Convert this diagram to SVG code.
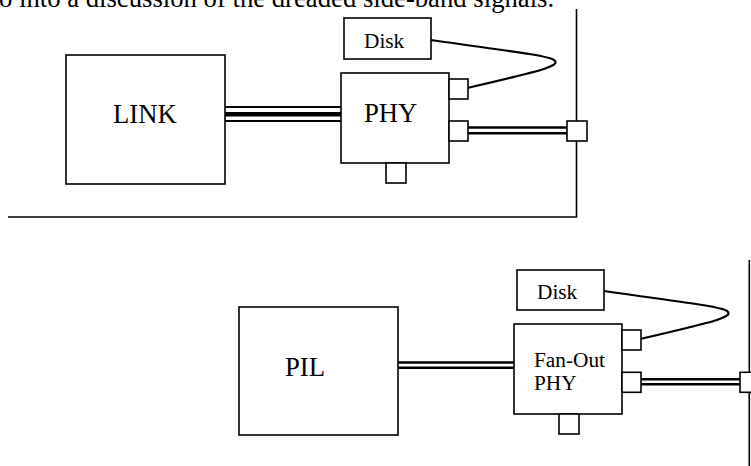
<svg xmlns="http://www.w3.org/2000/svg" width="751" height="466" viewBox="0 0 751 466">
<style>
.box{fill:#fff;stroke:#000;stroke-width:1.6}
.t{font-family:"Liberation Serif","Times New Roman",serif;fill:#000}
.big{font-size:26.7px}
.med{font-size:21.3px}
.ln{stroke:#000;fill:none}
</style>
<rect width="751" height="466" fill="#fff"/>
<text class="t big" x="-1" y="6.5">o into a discussion of the dreaded side-band signals.</text>
<g id="frame-top">
<path class="ln" d="M8,217 H576.5 V9" stroke-width="1.6"/>
</g>
<g id="frame-bottom">
<path class="ln" d="M749.3,260 V466" stroke-width="1.6"/>
</g>
<g id="connectors">
<line class="ln" x1="225" y1="107" x2="341" y2="107" stroke-width="2"/>
<line class="ln" x1="225" y1="114.3" x2="341" y2="114.3" stroke-width="4.6"/>
<line class="ln" x1="225" y1="121" x2="341" y2="121" stroke-width="2"/>
<line class="ln" x1="468" y1="127.5" x2="567" y2="127.5" stroke-width="2.6"/>
<line class="ln" x1="468" y1="133.3" x2="567" y2="133.3" stroke-width="2.6"/>
<path class="ln" d="M431,40 C500,50 547,55 554,60 C562,66 540,71 467,88" stroke-width="2.2"/>
<line class="ln" x1="398" y1="362.5" x2="514" y2="362.5" stroke-width="2.6"/>
<line class="ln" x1="398" y1="367.8" x2="514" y2="367.8" stroke-width="2.6"/>
<line class="ln" x1="641" y1="379.3" x2="740" y2="379.3" stroke-width="2.6"/>
<line class="ln" x1="641" y1="384.3" x2="740" y2="384.3" stroke-width="2.6"/>
<path class="ln" d="M604,291 C673,301 720,306 727,311 C735,317 713,322 640,339" stroke-width="2.2"/>
</g>
<g id="link">
<rect class="box" x="66" y="55" width="159" height="129"/>
<text class="t big" x="113" y="123.3">LINK</text>
</g>
<g id="phy">
<rect class="box" x="341" y="73" width="108" height="90"/>
<text class="t big" x="364" y="121.7">PHY</text>
<rect class="box" x="449" y="79" width="19" height="20"/>
<rect class="box" x="449" y="121" width="19" height="20"/>
<rect class="box" x="386" y="163" width="20" height="20"/>
</g>
<g id="disk-top">
<rect class="box" x="344" y="18" width="87" height="41"/>
<text class="t med" x="364" y="47.7">Disk</text>
</g>
<g id="bus-port-top">
<rect class="box" x="567" y="121" width="20" height="20"/>
</g>
<g id="pil">
<rect class="box" x="239" y="307" width="159" height="128"/>
<text class="t big" x="285" y="376">PIL</text>
</g>
<g id="fanout-phy">
<rect class="box" x="514" y="324" width="108" height="90"/>
<text class="t med" x="534" y="367">Fan-Out</text>
<text class="t med" x="534" y="390">PHY</text>
<rect class="box" x="622" y="330" width="19" height="20"/>
<rect class="box" x="622" y="372.3" width="19" height="20"/>
<rect class="box" x="559" y="414" width="20" height="20"/>
</g>
<g id="disk-bottom">
<rect class="box" x="517" y="270" width="87" height="40"/>
<text class="t med" x="537" y="299.3">Disk</text>
</g>
<g id="bus-port-bottom">
<rect class="box" x="740" y="372.3" width="20" height="20"/>
</g>
</svg>
